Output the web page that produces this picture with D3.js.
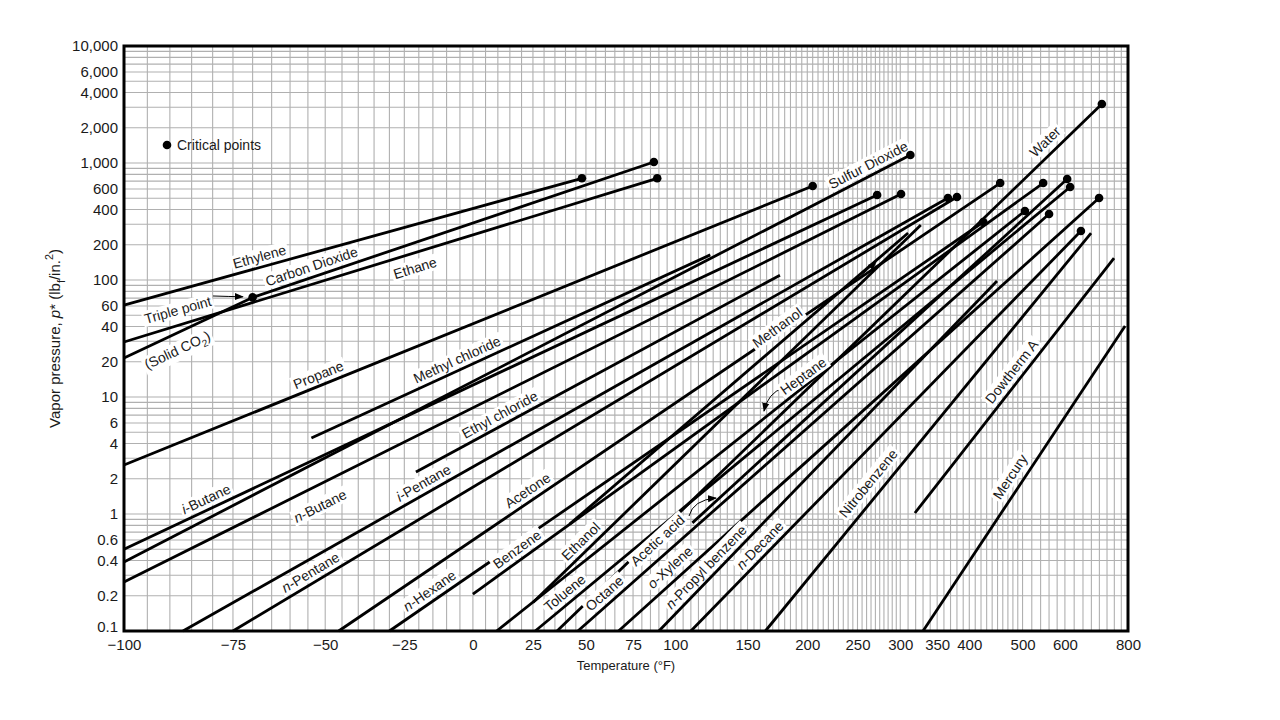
<!DOCTYPE html>
<html><head><meta charset="utf-8">
<script src="https://cdn.jsdelivr.net/npm/d3@7"></script>
<style>
body{margin:0;background:#fff;}
text{font-family:"Liberation Sans",Arial,sans-serif;fill:#1a1a1a;}
</style>
</head><body>
<svg id="chart" width="1280" height="720"></svg>
<script>
// ---------------- DATA ----------------
const xTickValues = [-100,-75,-50,-25,0,25,50,75,100,150,200,250,300,350,400,500,600,800];
const yTickValues = [0.1,0.2,0.4,0.6,1,2,4,6,10,20,40,60,100,200,400,600,1000,2000,4000,6000,10000];

const lineNames = ["Ethylene","Carbon Dioxide","Solid CO2","Ethane","Propane","i-Butane","n-Butane","Sulfur Dioxide",
  "Methyl chloride","Ethyl chloride","i-Pentane","n-Pentane","Acetone","n-Hexane","Heptane","Benzene","Toluene",
  "Water","Octane","Ethanol","Methanol","Acetic acid","o-Xylene","n-Propyl benzene","n-Decane","Nitrobenzene",
  "Dowtherm A","Mercury"];
const lineStartT = [-100,-70,-100,-100,-100,-100,-100,-100,-54,-21,-87,-75,-46,-30,9.5,0,26,36,46,25,42,111,67,90,110,164,319,330];
const lineStartP = [61,71,21.5,29.5,2.62,0.50,0.262,0.389,4.46,2.29,0.1,0.1,0.1,0.1,0.1,0.207,0.1,0.1,0.1,0.175,0.82,0.84,0.1,0.1,0.1,0.1,1.02,0.1];
const lineEndT   = [48,87,-70,89,205,272,301,313,123,176,366,380,455,424,505,546,614,708,560,327,310,606,699,449,644,674,749,789];
const lineEndP   = [740,1020,71,740,636,533,543,1170,164,110,502,512,674,313,389,674,624,3190,366,295,252,730,502,98,262,252,154,40.4];
const endsAtCritical = [1,1,0,1,1,1,1,1,0,0,1,1,1,1,1,1,1,1,1,0,0,1,1,0,1,0,0,0];
const triplePoint = {T:-70, p:71};

// labels (text, anchor T, anchor p, line used for orientation, optional angle)
const labelTexts = ["Ethylene","Carbon Dioxide","Ethane","Triple point","(Solid CO<sub>2</sub>)","Propane","Methyl chloride",
  "Sulfur Dioxide","Water","<i>i</i>-Butane","<i>n</i>-Butane","<i>i</i>-Pentane","Ethyl chloride","Acetone","<i>n</i>-Pentane",
  "<i>n</i>-Hexane","Benzene","Ethanol","Toluene","Octane","Acetic acid","<i>o</i>-Xylene","<i>n</i>-Propyl benzene",
  "<i>n</i>-Decane","Nitrobenzene","Dowtherm A","Mercury","Methanol","Heptane"];
const labelT = [-68.1,-53.8,-21.3,-88.2,-88.3,-51.5,-5.7,261.9,550.3,-81.3,-51.5,-16.6,11.6,24.0,-53.5,-16.0,19.3,48.4,39.8,60.7,91.1,96.8,121.7,162.9,261.9,477.6,474.2,173.8,196.4];
const labelP = [154,126.6,126.6,55.4,25.2,14.25,20.03,961,1521,1.274,1.170,1.551,6.575,1.453,0.2911,0.2168,0.4615,0.5618,0.2101,0.199,0.5541,0.3503,0.3370,0.4993,1.830,16.45,2.083,39.1,15.12];
const labelLine = [0,1,3,0,2,4,8,7,17,5,6,10,9,12,11,13,15,19,16,18,21,22,23,24,25,26,27,-1,-1];
const labelAngle = [null,null,null,-15.5,null,null,null,null,null,null,null,null,null,null,null,null,null,null,null,null,null,null,null,null,null,null,null,-36,-36];

// arrows: start, control, end (T, p)
const arrowStartT = [-79.9,198.8,178.6,108.8];
const arrowStartP = [73.0,50.2,11.94,0.961];
const arrowCtrlT  = [-75.8,236.8,166.1,111.4];
const arrowCtrlP  = [72.3,78.95,10.82,1.317];
const arrowEndT   = [-72.5,270.7,162.9,127.0];
const arrowEndP   = [71.8,142.5,7.59,1.37];

// ---------------- SCALES ----------------
const L = 124, R = 1128, T0 = 46, B = 631;
const u = T => -1/(T + 376);
const xLin = d3.scaleLinear().domain([u(-100), u(800)]).range([L, R]);
const x = T => xLin(u(T));
const y = d3.scaleLog().domain([0.1, 10000]).range([B, T0]);

const svg = d3.select("#chart");
svg.append("rect").attr("width",1280).attr("height",720).attr("fill","#fff");

// ---------------- GRID ----------------
const xGrid = [].concat(d3.range(-100,300,5), d3.range(300,500,10), d3.range(500,600,20), d3.range(600,801,25));
const yGrid = [];
[0.1,1,10,100,1000].forEach(dec => { for (let k=1;k<=9;k++) yGrid.push(k*dec); });
yGrid.push(10000);

const grid = svg.append("g").attr("stroke","#b0b0b0").attr("stroke-width",1.1);
grid.selectAll("line.v").data(xGrid).join("line").attr("class","v")
  .attr("x1",d=>x(d)).attr("x2",d=>x(d)).attr("y1",T0).attr("y2",B);
grid.selectAll("line.h").data(yGrid).join("line").attr("class","h")
  .attr("x1",L).attr("x2",R).attr("y1",d=>y(d)).attr("y2",d=>y(d));

// ---------------- LINES ----------------
const lineData = lineNames.map((n,i)=>({name:n, pts:[[lineStartT[i],lineStartP[i]],[lineEndT[i],lineEndP[i]]], crit:endsAtCritical[i]}));
const lineGen = d3.line().x(d=>x(d[0])).y(d=>y(d[1]));
svg.append("g").selectAll("path").data(lineData).join("path")
  .attr("d",d=>lineGen(d.pts)).attr("fill","none").attr("stroke","#000").attr("stroke-width",2.8);

// ---------------- ARROWS ----------------
const defs = svg.append("defs");
defs.append("marker").attr("id","ah").attr("viewBox","0 0 10 10").attr("refX",9).attr("refY",5)
  .attr("markerWidth",9).attr("markerHeight",9).attr("markerUnits","userSpaceOnUse").attr("orient","auto")
  .append("path").attr("d","M0,1 L10,5 L0,9 Z").attr("fill","#000");
svg.append("g").selectAll("path").data(arrowStartT.map((d,i)=>i)).join("path")
  .attr("d",i=>`M${x(arrowStartT[i])},${y(arrowStartP[i])} Q${x(arrowCtrlT[i])},${y(arrowCtrlP[i])} ${x(arrowEndT[i])},${y(arrowEndP[i])}`)
  .attr("fill","none").attr("stroke","#000").attr("stroke-width",1).attr("marker-end","url(#ah)");

// ---------------- RICH TEXT ----------------
function rich(textSel, str, fs){
  const toks = str.split(/(<\/?(?:i|sub|sup)>)/).filter(s=>s.length);
  let it=false, shift=0, cur=0;
  toks.forEach(tok=>{
    if(tok==="<i>"){it=true;return;} if(tok==="</i>"){it=false;return;}
    if(tok==="<sub>"){shift=0.3;return;} if(tok==="</sub>"){shift=0;return;}
    if(tok==="<sup>"){shift=-0.45;return;} if(tok==="</sup>"){shift=0;return;}
    const ts = textSel.append("tspan").text(tok);
    if(it) ts.attr("font-style","italic");
    const target = shift*fs, dy = target-cur; cur = target;
    if(dy!==0) ts.attr("dy",dy);
    if(shift!==0) ts.attr("font-size",fs*0.72);
  });
}

// ---------------- LABELS ----------------
const CLEAR = 10.5;
const labG = svg.append("g");
labelTexts.forEach((t,i)=>{
  let ang = labelAngle[i];
  let cx = x(labelT[i]), cy = y(labelP[i]);
  const k = labelLine[i];
  if(k>=0){
    const x1=x(lineStartT[k]), y1=y(lineStartP[k]), x2=x(lineEndT[k]), y2=y(lineEndP[k]);
    const len=Math.hypot(x2-x1,y2-y1), dx=(x2-x1)/len, dy=(y2-y1)/len;
    const nx=dy, ny=-dx;
    const tt=(cx-x1)*dx+(cy-y1)*dy;
    let s=(cx-x1)*nx+(cy-y1)*ny;
    if(Math.abs(s)<CLEAR) s = (s>=0?1:-1)*CLEAR;
    cx = x1+dx*tt+nx*s; cy = y1+dy*tt+ny*s;
    if(ang===null) ang = Math.atan2(y2-y1,x2-x1)*180/Math.PI;
  }
  const g = labG.append("g").attr("transform",`translate(${cx},${cy}) rotate(${ang})`);
  const r = g.append("rect").attr("fill","#fff");
  const tx = g.append("text").attr("text-anchor","middle").attr("dy","0.35em").attr("font-size",14);
  rich(tx, t, 14);
  const bb = tx.node().getBBox();
  r.attr("x",bb.x-2).attr("y",bb.y).attr("width",bb.width+4).attr("height",bb.height);
});

// ---------------- CRITICAL POINTS ----------------
svg.append("g").selectAll("circle").data(lineData.filter(d=>d.crit)).join("circle")
  .attr("cx",d=>x(d.pts[1][0])).attr("cy",d=>y(d.pts[1][1])).attr("r",4.3).attr("fill","#000");
svg.append("circle").attr("cx",x(triplePoint.T)).attr("cy",y(triplePoint.p)).attr("r",4.3).attr("fill","#000");

// legend
svg.append("circle").attr("cx",L+43).attr("cy",T0+99).attr("r",4.3).attr("fill","#000");
svg.append("text").attr("x",L+53).attr("y",T0+99).attr("dy","0.35em").attr("font-size",14).text("Critical points");

// ---------------- FRAME & AXES ----------------
svg.append("rect").attr("x",L).attr("y",T0).attr("width",R-L).attr("height",B-T0)
  .attr("fill","none").attr("stroke","#000").attr("stroke-width",3);

const fmt = d3.format(",");
const xAxis = d3.axisBottom(xLin).tickValues(xTickValues.map(u)).tickSize(0).tickPadding(8)
  .tickFormat((d,i)=>fmt(xTickValues[i]));
const gx = svg.append("g").attr("transform",`translate(0,${B})`).call(xAxis);
gx.select(".domain").remove();
gx.selectAll("text").attr("font-size",15).attr("font-family","'Liberation Sans',Arial,sans-serif").attr("fill","#1a1a1a");

const yAxis = d3.axisLeft(y).tickValues(yTickValues).tickSize(0).tickPadding(6).tickFormat(d=>fmt(d));
const gy = svg.append("g").attr("transform",`translate(${L},0)`).call(yAxis);
gy.select(".domain").remove();
gy.selectAll("text").attr("font-size",15).attr("font-family","'Liberation Sans',Arial,sans-serif").attr("fill","#1a1a1a");
gy.selectAll(".tick").filter(d=>d===0.1).select("text").attr("dy","0.05em");

// titles
svg.append("text").attr("x",626).attr("y",670).attr("text-anchor","middle").attr("font-size",13).text("Temperature (°F)");
const yt = svg.append("text").attr("transform",`translate(60,${(T0+B)/2}) rotate(-90)`).attr("text-anchor","middle").attr("font-size",15);
rich(yt, "Vapor pressure, <i>p</i>* (lb<sub>f</sub>/in.<sup>2</sup>)", 15);
</script>
</body></html>
